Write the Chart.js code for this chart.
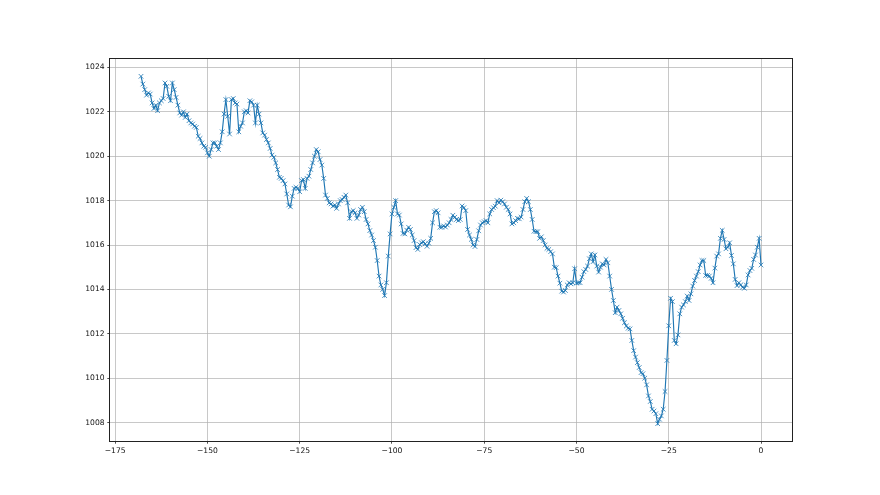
<!DOCTYPE html>
<html>
<head>
<meta charset="utf-8">
<title>Presion</title>
<script src="https://cdn.jsdelivr.net/npm/chart.js@4.4.1/dist/chart.umd.min.js"></script>
<style>
  body { margin: 0; background: #fff; }
  #myChart { display: block; background: #fff; }
</style>
</head>
<body>
<canvas id="myChart" width="880" height="495"></canvas>
<script>
// lecturas cada media hora, desde -168 h hasta 0 h
let pressure = [
  // -168 .. -148.5
  1023.6, 1023.25, 1023.0, 1022.75, 1022.85, 1022.8, 1022.4, 1022.15, 1022.3, 1022.05,
  1022.4, 1022.5, 1022.6, 1023.3, 1023.15, 1022.7, 1022.5, 1023.3, 1023.0, 1022.65,
  1022.3, 1021.95, 1021.85, 1022.0, 1021.75, 1021.9, 1021.6, 1021.5, 1021.45, 1021.35,
  1021.3, 1020.9, 1020.8, 1020.6, 1020.45, 1020.4, 1020.15, 1020.0, 1020.3, 1020.6,
  // -148 .. -128.5
  1020.6, 1020.45, 1020.3, 1020.6, 1021.1, 1021.9, 1022.55, 1021.8, 1021.0, 1022.55,
  1022.6, 1022.4, 1022.35, 1021.1, 1021.35, 1021.5, 1022.0, 1022.05, 1021.95, 1022.5,
  1022.45, 1022.3, 1021.5, 1022.3, 1021.9, 1021.5, 1021.05, 1020.95, 1020.75, 1020.6,
  1020.35, 1020.05, 1019.95, 1019.7, 1019.4, 1019.05, 1019.0, 1018.9, 1018.75, 1018.3,
  // -128 .. -108.5
  1017.8, 1017.72, 1018.2, 1018.55, 1018.6, 1018.55, 1018.4, 1018.9, 1018.95, 1018.55,
  1019.0, 1019.1, 1019.4, 1019.7, 1020.0, 1020.3, 1020.2, 1019.85, 1019.6, 1019.0,
  1018.25, 1018.1, 1017.9, 1017.85, 1017.75, 1017.8, 1017.65, 1017.85, 1018.0, 1018.05,
  1018.15, 1018.25, 1017.9, 1017.2, 1017.5, 1017.55, 1017.45, 1017.2, 1017.35, 1017.6,
  // -108 .. -88.5
  1017.7, 1017.5, 1017.15, 1016.95, 1016.65, 1016.45, 1016.2, 1015.9, 1015.3, 1014.6,
  1014.2, 1014.0, 1013.72, 1014.3, 1015.5, 1016.5, 1017.4, 1017.7, 1018.0, 1017.4,
  1017.35, 1016.95, 1016.52, 1016.5, 1016.67, 1016.8, 1016.7, 1016.45, 1016.2, 1015.88,
  1015.8, 1016.02, 1016.1, 1016.15, 1016.05, 1015.94, 1016.08, 1016.3, 1017.0, 1017.5,
  // -88 .. -68.5
  1017.55, 1017.45, 1016.8, 1016.8, 1016.86, 1016.81, 1016.9, 1017.0, 1017.15, 1017.34,
  1017.25, 1017.15, 1017.1, 1017.15, 1017.76, 1017.68, 1017.55, 1016.7, 1016.45, 1016.25,
  1016.0, 1015.93, 1016.25, 1016.64, 1016.9, 1017.0, 1017.05, 1017.1, 1017.0, 1017.4,
  1017.6, 1017.68, 1017.75, 1018.0, 1017.9, 1018.02, 1017.95, 1017.85, 1017.7, 1017.6,
  // -68 .. -48.5
  1017.4, 1016.95, 1017.0, 1017.1, 1017.2, 1017.18, 1017.26, 1017.6, 1017.95, 1018.1,
  1017.95, 1017.6, 1017.15, 1016.62, 1016.6, 1016.6, 1016.3, 1016.37, 1016.2, 1016.0,
  1015.85, 1015.8, 1015.7, 1015.6, 1015.0, 1014.98, 1014.6, 1014.28, 1013.92, 1013.88,
  1013.95, 1014.2, 1014.3, 1014.25, 1014.3, 1014.93, 1014.28, 1014.3, 1014.3, 1014.55,
  // -48 .. -28.5
  1014.8, 1014.9, 1015.05, 1015.38, 1015.6, 1015.25, 1015.55, 1015.05, 1014.78, 1015.0,
  1015.15, 1015.1, 1015.35, 1015.2, 1014.6, 1014.0, 1013.5, 1012.95, 1013.2, 1013.05,
  1012.9, 1012.7, 1012.5, 1012.35, 1012.25, 1012.22, 1011.7, 1011.24, 1010.95, 1010.7,
  1010.48, 1010.25, 1010.2, 1010.0, 1009.7, 1009.2, 1008.95, 1008.6, 1008.52, 1008.4,
  // -28 .. -8.5
  1007.95, 1008.15, 1008.3, 1008.6, 1009.4, 1010.8, 1012.36, 1013.6, 1013.45, 1011.7,
  1011.55, 1011.95, 1012.9, 1013.2, 1013.3, 1013.45, 1013.7, 1013.5, 1013.8, 1014.15,
  1014.4, 1014.6, 1014.8, 1015.1, 1015.3, 1015.3, 1014.63, 1014.63, 1014.6, 1014.5,
  1014.3, 1014.96, 1015.5, 1015.6, 1016.3, 1016.66, 1016.25, 1015.83, 1015.9, 1016.1,
  // -8 .. 0
  1015.53, 1015.15, 1014.45, 1014.17, 1014.3, 1014.2, 1014.1, 1014.05, 1014.2, 1014.65,
  1014.85, 1014.95, 1015.35, 1015.55, 1015.9, 1016.3, 1015.1
];

// eje de tiempo (horas), una lectura cada 0.5 h
let hours = pressure.map((v, i) => -168 + i * 0.5);

let xTicks = [-175, -150, -125, -100, -75, -50, -25, 0];
let yTicks = [1008, 1010, 1012, 1014, 1016, 1018, 1020, 1022, 1024];

const blue = '#1f77b4';
const tickFont = { family: 'DejaVu Sans', size: 7.6 };

// texto con signo menos tipografico como matplotlib
function fmt(v) {
  return String(v).replace('-', '\u2212');
}

// marco completo alrededor del area del grafico
const frame = {
  id: 'frame',
  afterDraw(chart) {
    const a = chart.chartArea;
    const c = chart.ctx;
    c.save();
    c.strokeStyle = '#222';
    c.lineWidth = 1;
    c.strokeRect(Math.round(a.left) - 0.5, Math.round(a.top) - 0.5,
      Math.round(a.right - a.left) + 1, Math.round(a.bottom - a.top) + 1);
    c.restore();
  }
};

const ctx = document.getElementById('myChart').getContext('2d');
let myChart = new Chart(ctx, {
  type: 'line',
  data: {
    datasets: [{
      data: hours.map((h, i) => ({ x: h, y: pressure[i] })),
      borderColor: blue,
      borderWidth: 1.15,
      tension: 0,
      fill: false,
      pointStyle: 'crossRot',
      pointRadius: 3.25,
      pointBorderWidth: 0.8,
      pointBorderColor: blue,
      pointBackgroundColor: blue
    }]
  },
  options: {
    responsive: false,
    animation: false,
    layout: { padding: { left: 0, top: 59, right: 88, bottom: 0 } },
    plugins: {
      legend: { display: false },
      tooltip: { enabled: false }
    },
    scales: {
      x: {
        type: 'linear',
        min: -176.4,
        max: 8.4,
        afterFit: (s) => { s.height = 54; },
        afterBuildTicks: (s) => { s.ticks = xTicks.map(v => ({ value: v })); },
        border: { display: false },
        grid: { color: '#b0b0b0', lineWidth: 0.7, tickColor: '#222', tickLength: 2.7, tickWidth: 0.8 },
        ticks: { font: tickFont, color: '#111', padding: 2.7, maxRotation: 0, callback: (v) => fmt(v) }
      },
      y: {
        min: 1007.17,
        max: 1024.38,
        afterFit: (s) => { s.width = 110; },
        afterBuildTicks: (s) => { s.ticks = yTicks.map(v => ({ value: v })); },
        border: { display: false },
        grid: { color: '#b0b0b0', lineWidth: 0.7, tickColor: '#222', tickLength: 2.7, tickWidth: 0.8 },
        ticks: { font: tickFont, color: '#111', padding: 2.7, callback: (v) => fmt(v) }
      }
    }
  },
  plugins: [frame]
});
</script>
</body>
</html>
